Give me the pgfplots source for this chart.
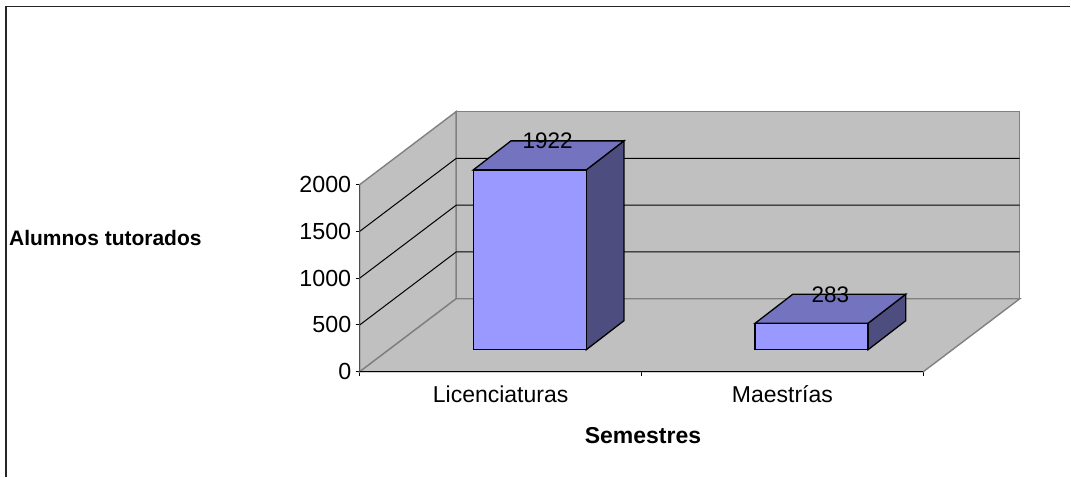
\documentclass[border=0pt]{standalone}
\usepackage{pgfplots}
\pgfplotsset{compat=1.18}
\usepackage{fontspec}
\setmainfont{Liberation Sans}
\definecolor{wallc}{HTML}{C0C0C0}
\definecolor{edgec}{HTML}{808080}
\definecolor{frontc}{HTML}{9999FF}
\definecolor{topc}{HTML}{7373BF}
\definecolor{sidec}{HTML}{4D4D80}
\begin{document}
\begin{tikzpicture}[x=1pt,y=1pt]
\path (0,0) rectangle (1071,477);
\begin{axis}[
  at={(360pt,105pt)}, anchor=origin,
  scale only axis, width=564pt, height=187.3pt,
  xmin=0, xmax=2, ymin=0, ymax=2000,
  clip=false,
  axis line style={draw=none},
  xtick={0,1,2}, xticklabels={,,},
  ytick={0,500,1000,1500,2000},
  extra x ticks={0.5,1.5}, extra x tick labels={Licenciaturas,Maestrías},
  extra x tick style={major tick length=0pt, tick label style={yshift=-10.5pt}},
  tick style={draw=black, line width=1pt},
  x tick label style={font=\fontsize{23}{24}\selectfont},
  y tick label style={font=\fontsize{23.3}{24}\selectfont, xshift=-1pt},
  /pgf/number format/assume math mode=true,
  /pgf/number format/1000 sep={},
  major tick length=4pt,
  tick align=outside,
  xtick pos=bottom, ytick pos=left,
]
% walls and floor
\addplot[fill=wallc, draw=edgec, line width=1.4pt] coordinates {(0.3422,779.5) (2.3422,779.5) (2.3422,2779.5) (0.3422,2779.5)} -- cycle;
\addplot[fill=wallc, draw=edgec, line width=1.4pt] coordinates {(0,0) (0.3422,779.5) (0.3422,2779.5) (0,2000)} -- cycle;
\addplot[fill=wallc, draw=edgec, line width=1.4pt] coordinates {(0,0) (2,0) (2.3422,779.5) (0.3422,779.5)} -- cycle;
% gridlines
\addplot[black, line width=1pt] coordinates {(0,500) (0.3422,1279.5) (2.3422,1279.5)};
\addplot[black, line width=1pt] coordinates {(0,1000) (0.3422,1779.5) (2.3422,1779.5)};
\addplot[black, line width=1pt] coordinates {(0,1500) (0.3422,2279.5) (2.3422,2279.5)};
% axis lines
\addplot[black, line width=1.3pt] coordinates {(0,0) (2,0)};
\addplot[edgec!60!black, line width=1.3pt] coordinates {(0,0) (0,2000)};
% bar 1 (1922, base offset 235)
\addplot[fill=sidec, draw=black, line width=1.3pt] coordinates {(0.8039,235) (0.9376,545) (0.9376,2467) (0.8039,2157)} -- cycle;
\addplot[fill=topc, draw=black, line width=1.3pt] coordinates {(0.4032,2157) (0.8039,2157) (0.9376,2467) (0.5369,2467)} -- cycle;
\addplot[fill=frontc, draw=black, line width=1.3pt] coordinates {(0.4032,235) (0.8039,235) (0.8039,2157) (0.4032,2157)} -- cycle;
% bar 2 (283)
\addplot[fill=sidec, draw=black, line width=1.3pt] coordinates {(1.8039,235) (1.9376,545) (1.9376,828) (1.8039,518)} -- cycle;
\addplot[fill=topc, draw=black, line width=1.3pt] coordinates {(1.4032,518) (1.8039,518) (1.9376,828) (1.5369,828)} -- cycle;
\addplot[fill=frontc, draw=black, line width=1.3pt] coordinates {(1.4032,235) (1.8039,235) (1.8039,518) (1.4032,518)} -- cycle;
% value labels
\addplot[only marks, mark=none, point meta=explicit symbolic,
  nodes near coords, nodes near coords align={anchor=center},
  every node near coord/.append style={font=\fontsize{22.5}{24}\selectfont, text=black, inner sep=0pt}]
  coordinates {(0.667,2467)[1922] (1.670,822)[283]};
\end{axis}
\draw[black!85, line width=1.6pt] (6,0) -- (6,470.5) -- (1071,470.5);
\node[font=\bfseries\fontsize{21}{22}\selectfont, anchor=west, inner sep=0pt] at (9,239) {Alumnos tutorados};
\node[font=\bfseries\fontsize{23}{24}\selectfont, inner sep=0pt] at (643.5,41) {Semestres};
\end{tikzpicture}
\end{document}
